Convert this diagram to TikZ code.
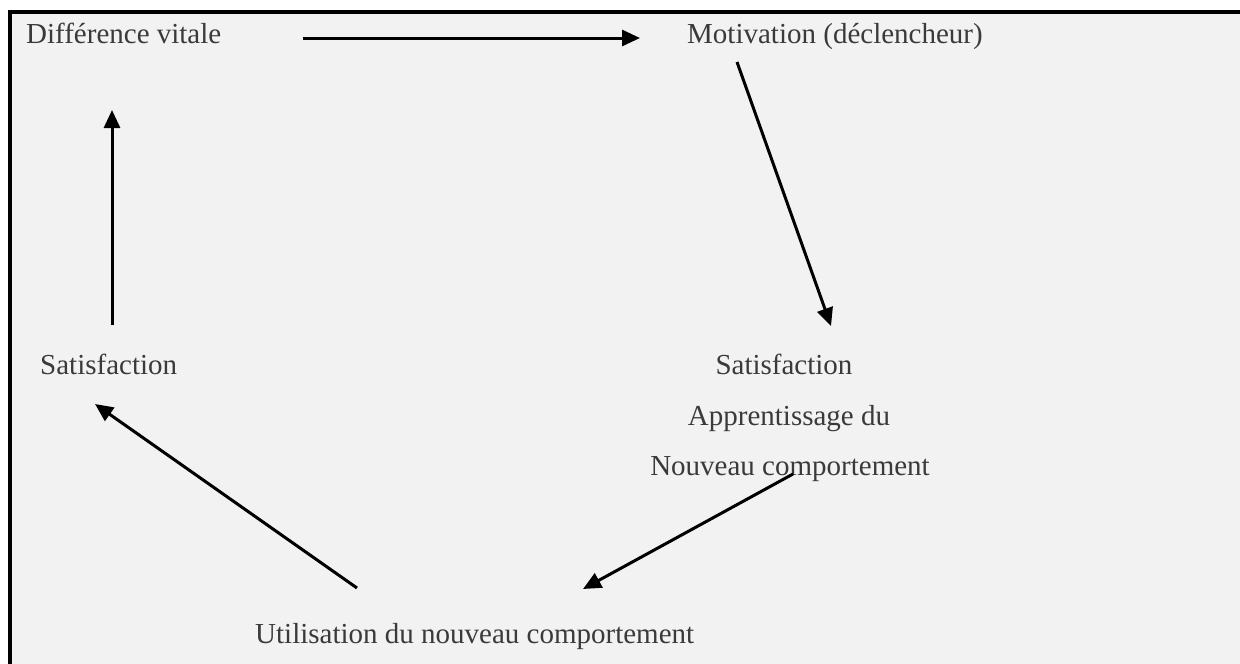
\documentclass[tikz,border=0pt]{standalone}
\usepackage{fontspec}
\setmainfont{Liberation Serif}
\usetikzlibrary{arrows.meta}
\definecolor{pagegray}{HTML}{F2F2F2}
\definecolor{inkgray}{HTML}{3A3A3A}
\tikzset{
  lbl/.style={anchor=base west, inner sep=0pt, text=inkgray, font=\fontsize{29}{35}\selectfont},
  arr/.style={line width=3pt, -{Triangle[length=18pt,width=16pt]}}
}
\begin{document}
\begin{tikzpicture}[x=1pt,y=-1pt]
            \useasboundingbox (0,0) rectangle (1240,664);
            \fill[pagegray] (10,12) rectangle (1240,664);
            \draw[line width=4pt] (10,664) -- (10,12) -- (1240,12);

            \node[lbl] (diff) at (26,43) {Différence vitale};
            \node[lbl] (motiv) at (687,43) {Motivation (déclencheur)};
            \node[lbl] (satL) at (40,374) {Satisfaction};
            \node[lbl,anchor=base] (satR) at (784,374) {Satisfaction};
            \node[lbl,anchor=base] (appr) at (789,425) {Apprentissage du};
            \node[lbl,anchor=base] (nouv) at (790,475) {Nouveau comportement};
            \node[lbl] (util) at (255,643) {Utilisation du nouveau comportement};

            \coordinate (d1) at (303,38);
            \coordinate (d2) at (640,38);
            \coordinate (m1) at (737,62);
            \coordinate (m2) at (831,326);
            \coordinate (n1) at (793,474);
            \coordinate (n2) at (583,589);
            \coordinate (u1) at (357,588);
            \coordinate (u2) at (95,404);
            \coordinate (s1) at (112,325);
            \coordinate (s2) at (112,110);

            \draw[arr] (d1) -- (d2);
            \draw[arr] (m1) -- (m2);
            \draw[arr] (n1) -- (n2);
            \draw[arr] (u1) -- (u2);
            \draw[arr] (s1) -- (s2);
        \end{tikzpicture}
\end{document}
